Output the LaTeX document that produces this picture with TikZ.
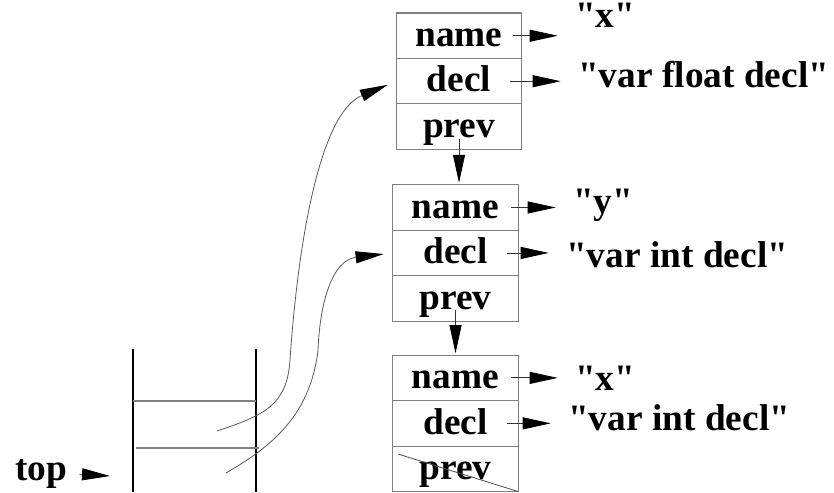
\documentclass[tikz,border=0pt]{standalone}
\usepackage{fontspec}
\setmainfont{Liberation Serif}
\usetikzlibrary{positioning,arrows.meta}

\newcommand{\qq}[1]{\textquotedbl#1\textquotedbl}

\tikzset{
  field/.style={draw=black!50, line width=0.8pt, outer sep=0pt, inner sep=0pt,
    minimum width=94pt, minimum height=34.1pt, text height=20pt, text depth=4pt,
    font=\fontsize{28}{30}\selectfont\bfseries},
  val/.style={anchor=base west, inner sep=0pt, font=\fontsize{28}{30}\selectfont\bfseries},
  ptr/.style={-{Triangle[length=21pt,width=9pt,color=black]}, line width=0.6pt, draw=black!80},
  link/.style={ptr, draw=black!65, shorten >=7pt}
}

\begin{document}
\begin{tikzpicture}[x=0.75pt, y=-0.75pt]
  \useasboundingbox (0,0) rectangle (834,492);

  % symbol table entries, newest at the bottom
  \node[field] (n1name) at (459,35.75) {name};
  \node[field, below=0pt of n1name] (n1decl) {decl};
  \node[field, below=0pt of n1decl] (n1prev) {prev};

  \node[field, below=26.5pt of n1prev, xshift=-2.6pt] (n2name) {name};
  \node[field, below=0pt of n2name] (n2decl) {decl};
  \node[field, below=0pt of n2decl] (n2prev) {prev};

  \node[field, below=25.5pt of n2prev] (n3name) {name};
  \node[field, below=0pt of n3name] (n3decl) {decl};
  \node[field, below=0pt of n3decl] (n3prev) {prev};
  % last entry has no predecessor
  \draw[black!70, line width=0.6pt] ([xshift=4pt,yshift=-6pt]n3prev.north west) -- (n3prev.south east);

  % field values
  \node[val] (v1name) at (575,28) {\qq{x}};
  \node[val] (v1decl) at (578,88) {\qq{var float decl}};
  \node[val] (v2name) at (573,213) {\qq{y}};
  \node[val] (v2decl) at (566,267) {\qq{var int decl}};
  \node[val] (v3name) at (575,390) {\qq{x}};
  \node[val] (v3decl) at (568,430) {\qq{var int decl}};

  \draw[ptr, shorten >=13pt] ([xshift=-6.5pt]n1name.east) -- (n1name.east -| v1name.west);
  \draw[ptr, shorten >=13pt] ([xshift=-8.5pt]n1decl.east) -- (n1decl.east -| v1decl.west);
  \draw[ptr, shorten >=13pt] ([xshift=-5.5pt]n2name.east) -- (n2name.east -| v2name.west);
  \draw[ptr, shorten >=13pt] ([xshift=-8.5pt]n2decl.east) -- (n2decl.east -| v2decl.west);
  \draw[ptr, shorten >=13pt] ([xshift=-5.5pt]n3name.east) -- (n3name.east -| v3name.west);
  \draw[ptr, shorten >=13pt] ([xshift=-8.5pt]n3decl.east) -- (n3decl.east -| v3decl.west);

  % prev links
  \draw[ptr, shorten >=1.5pt] ([yshift=7.5pt]n1prev.south) -- (n1prev.south |- n2name.north);
  \draw[ptr, shorten >=1.5pt] ([yshift=8.5pt]n2prev.south) -- (n2prev.south |- n3name.north);

  % scope stack
  \draw[black, line width=0.8pt] (133,349) -- (133,492) (256,349) -- (256,492);
  \draw[black!50, line width=1pt] (133,401) -- (256,401) (136,448) -- (259,448);
  \coordinate (cell1) at (217,431);
  \coordinate (cell2) at (226,473);

  \draw[link] (cell1) .. controls (265,415) and (287,405) .. (290,360)
    .. controls (296,270) and (315,115) .. (n1decl.west);
  \draw[link] (cell2) .. controls (265,450) and (310,420) .. (318,350)
    .. controls (320,300) and (333,260) .. (n2decl.west);

  % top of stack
  \node[val] (toplbl) at (15,480) {top};
  \coordinate (topcell) at (110,476);
  \draw[ptr, shorten <=9pt] (toplbl.east) -- (topcell);
\end{tikzpicture}
\end{document}
